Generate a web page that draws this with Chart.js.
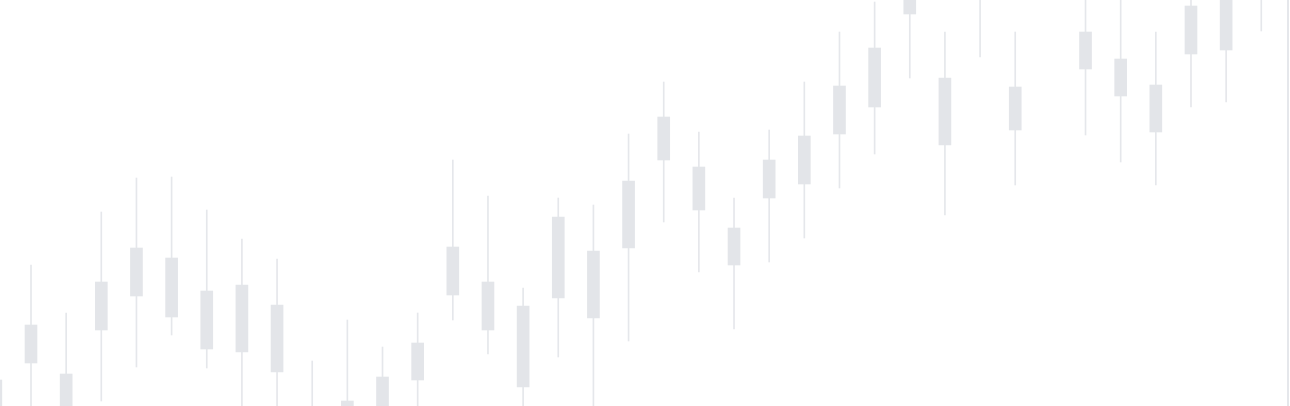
<!DOCTYPE html>
<html>
<head>
<meta charset="utf-8">
<script src="https://cdn.jsdelivr.net/npm/chart.js@4"></script>
<style>
  html, body { margin: 0; padding: 0; background: #fff; }
  #wrap { width: 1290px; height: 406px; }
</style>
</head>
<body>
<div id="wrap"><canvas id="c"></canvas></div>
<script>
// Candle values (chart units, 0 = bottom edge, 406 = top edge)
const opens  = [26, 81, 32, 124, 158, 148, 115, 121, 101, -4, 5, 29, 63, 159, 124, 100, 189, 155, 225, 289, 239, 178, 246, 270, 320, 358, 411, 328, 446, 319, 466, 374, 347, 321, 400, 411, 436];
const closes = [0, 43, -4, 76, 110, 89, 57, 54, 34, -20, -4, -4, 26, 111, 76, 19, 108, 88, 158, 246, 196, 141, 208, 222, 272, 299, 392, 261, 416, 276, 436, 337, 310, 274, 352, 356, 416];
const highs  = [31, 141, 93, 194, 228, 229, 196, 167, 147, 45, 86, 59, 93, 246, 210, 118, 208, 201, 272, 324, 274, 208, 276, 324, 374, 404, 416, 374, 416, 374, 486, 416, 416, 374, 416, 416, 416];
const lows   = [-14, 0, 0, 5, 39, 71, 38, 0, 0, 0, 0, 0, 0, 86, 52, 0, 49, 0, 65, 184, 134, 77, 144, 168, 218, 252, 328, 191, 349, 221, 421, 271, 244, 221, 299, 304, 375];
const idx = opens.map((_, i) => i);

const bodyColor = '#e3e5e9';
const wickColor = '#e5e7eb';

new Chart(document.getElementById('c'), {
  type: 'bar',
  data: {
    datasets: [{
      label: 'wick',
      data: idx.map(i => ({ x: i, y: [lows[i], highs[i]] })),
      backgroundColor: wickColor,
      barThickness: 1,
      grouped: false,
      order: 2
    }, {
      label: 'body',
      data: idx.map(i => ({ x: i, y: [Math.min(opens[i], closes[i]), Math.max(opens[i], closes[i])] })),
      backgroundColor: bodyColor,
      barThickness: 12,
      grouped: false,
      order: 1
    }]
  },
  options: {
    animation: false,
    responsive: true,
    maintainAspectRatio: false,
    layout: { padding: 0 },
    plugins: { legend: { display: false }, tooltip: { enabled: false } },
    scales: {
      x: {
        type: 'linear', min: 0.118, max: 36.76,
        offset: false,
        display: false
      },
      y: {
        position: 'right', min: 0, max: 406,
        grid: { display: false, drawTicks: false },
        ticks: { display: false },
        border: { display: true, color: '#e5e7eb', width: 2 },
        afterFit: (axis) => { axis.width = 2; }
      }
    }
  }
});
</script>
</body>
</html>
